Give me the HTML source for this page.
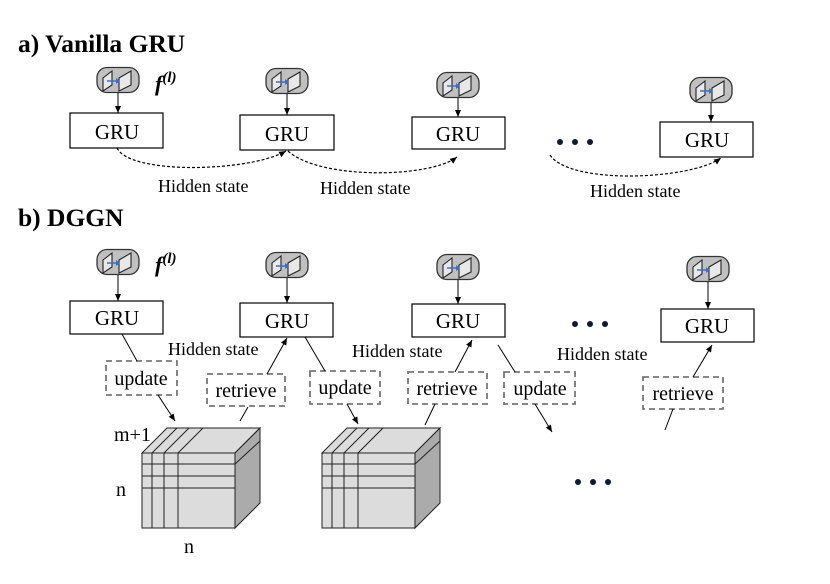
<!DOCTYPE html>
<html><head><meta charset="utf-8"><style>
html,body{margin:0;padding:0;background:#fff}
svg{display:block}
text{font-family:"Liberation Serif",serif;fill:#000}
</style></head><body>
<svg width="830" height="584" viewBox="0 0 830 584" xmlns="http://www.w3.org/2000/svg">
<defs>
<marker id="ah" markerWidth="8" markerHeight="8" refX="7" refY="4" orient="auto" markerUnits="userSpaceOnUse">
<path d="M0,1 L7,4 L0,7 z" fill="#000"/></marker>
<g id="icon">
<rect x="-21" y="-12.5" width="42" height="25" rx="10" fill="#c0c0c0" stroke="#333" stroke-width="1.3"/>
<path d="M-15,-2 L-6,-9 L-6,5 L-15,11 z" fill="#e8e8e8" stroke="#222" stroke-width="1.1"/>
<path d="M1,-2 L13,-9 L13,5 L1,11 z" fill="#e8e8e8" stroke="#222" stroke-width="1.1"/>
<line x1="-11" y1="1" x2="0" y2="1" stroke="#3a6fd0" stroke-width="1.5"/>
<path d="M-2,-2 L2,1 L-2,4 z" fill="#3a6fd0"/>
</g>
<g id="cube">
<path d="M0,0 L93,0 L118,-25 L25,-25 z" fill="#dcdcdc" stroke="#222" stroke-width="1"/>
<path d="M93,0 L118,-25 L118,50 L93,75 z" fill="#ababab" stroke="#222" stroke-width="1"/>
<rect x="0" y="0" width="93" height="75" fill="#dcdcdc" stroke="#222" stroke-width="1"/>
<g stroke="#222" stroke-width="1">
<line x1="10" y1="0" x2="10" y2="75"/><line x1="22" y1="0" x2="22" y2="75"/><line x1="36" y1="0" x2="36" y2="75"/>
<line x1="0" y1="11" x2="93" y2="11"/><line x1="0" y1="23" x2="93" y2="23"/><line x1="0" y1="35" x2="93" y2="35"/>
<line x1="10" y1="0" x2="35" y2="-25"/><line x1="22" y1="0" x2="47" y2="-25"/><line x1="36" y1="0" x2="61" y2="-25"/>
<line x1="93" y1="11" x2="118" y2="-12"/>
</g>
</g>
</defs>

<text x="18" y="52" font-size="25.5" font-weight="bold">a) Vanilla GRU</text>
<text x="18" y="226" font-size="25.5" font-weight="bold">b) DGGN</text>

<!-- Part a -->
<use href="#icon" x="118" y="80"/>
<use href="#icon" x="287" y="81"/>
<use href="#icon" x="458" y="85"/>
<use href="#icon" x="711" y="90"/>
<text x="155" y="91" font-size="22" font-weight="bold" font-style="italic">f<tspan font-size="15" dy="-9">(l)</tspan></text>
<g stroke="#000" stroke-width="1">
<line x1="118" y1="93" x2="118" y2="113" marker-end="url(#ah)"/>
<line x1="287" y1="94" x2="287" y2="115" marker-end="url(#ah)"/>
<line x1="458" y1="98" x2="458" y2="117" marker-end="url(#ah)"/>
<line x1="711" y1="103" x2="711" y2="122" marker-end="url(#ah)"/>
</g>
<g fill="#fff" stroke="#000" stroke-width="1.2">
<rect x="70" y="113" width="93" height="35"/>
<rect x="240" y="115" width="94" height="35"/>
<rect x="412" y="117" width="93" height="32"/>
<rect x="660" y="122" width="93" height="35"/>
</g>
<g font-size="21" text-anchor="middle">
<text x="117" y="139">GRU</text><text x="287" y="141">GRU</text><text x="458" y="141">GRU</text><text x="707" y="147">GRU</text>
</g>
<g fill="none" stroke="#000" stroke-width="1.2" stroke-dasharray="3,2">
<path d="M117,148 C130,175 250,172 286,151" marker-end="url(#ah)"/>
<path d="M288,151 C320,180 430,178 457,157" marker-end="url(#ah)"/>
<path d="M550,155 C570,185 690,180 721,158" marker-end="url(#ah)"/>
</g>
<g fill="#0a1a3a"><circle cx="560" cy="142" r="3"/><circle cx="575" cy="142" r="3"/><circle cx="590" cy="142" r="3"/></g>
<g font-size="18">
<text x="158" y="192">Hidden state</text>
<text x="320" y="194">Hidden state</text>
<text x="590" y="197">Hidden state</text>
</g>

<!-- Part b -->
<use href="#icon" x="118" y="262"/>
<use href="#icon" x="287" y="265"/>
<use href="#icon" x="458" y="267"/>
<use href="#icon" x="708" y="269"/>
<text x="155" y="272" font-size="22" font-weight="bold" font-style="italic">f<tspan font-size="15" dy="-9">(l)</tspan></text>
<g stroke="#000" stroke-width="1">
<line x1="118" y1="275" x2="118" y2="301" marker-end="url(#ah)"/>
<line x1="287" y1="278" x2="287" y2="303" marker-end="url(#ah)"/>
<line x1="458" y1="280" x2="458" y2="304" marker-end="url(#ah)"/>
<line x1="708" y1="282" x2="708" y2="309" marker-end="url(#ah)"/>
</g>
<g fill="#fff" stroke="#000" stroke-width="1.2">
<rect x="70" y="301" width="93" height="33"/>
<rect x="240" y="303" width="93" height="34"/>
<rect x="412" y="304" width="93" height="33"/>
<rect x="661" y="309" width="93" height="33"/>
</g>
<g font-size="21" text-anchor="middle">
<text x="117" y="325">GRU</text><text x="287" y="328">GRU</text><text x="458" y="328">GRU</text><text x="707" y="333">GRU</text>
</g>
<g fill="#0a1a3a"><circle cx="575" cy="324" r="3"/><circle cx="590" cy="324" r="3"/><circle cx="605" cy="324" r="3"/></g>
<g font-size="18">
<text x="168" y="355">Hidden state</text>
<text x="352" y="357">Hidden state</text>
<text x="557" y="360">Hidden state</text>
</g>
<g fill="none" stroke="#777" stroke-width="1.8" stroke-dasharray="6,4">
<rect x="106" y="361" width="71" height="34"/>
<rect x="207" y="374" width="78" height="32"/>
<rect x="310" y="371" width="70" height="33"/>
<rect x="408" y="372" width="79" height="32"/>
<rect x="504" y="372" width="71" height="32"/>
<rect x="643" y="377" width="80" height="32"/>
</g>
<g font-size="20" text-anchor="middle">
<text x="141" y="385">update</text>
<text x="246" y="397">retrieve</text>
<text x="345" y="394">update</text>
<text x="447" y="395">retrieve</text>
<text x="540" y="395">update</text>
<text x="683" y="400">retrieve</text>
</g>
<g stroke="#000" stroke-width="1" fill="none">
<line x1="122" y1="334" x2="137" y2="361"/>
<line x1="267" y1="374" x2="287" y2="338" marker-end="url(#ah)"/>
<line x1="305" y1="337" x2="325" y2="371"/>
<line x1="455" y1="372" x2="472" y2="340" marker-end="url(#ah)"/>
<line x1="498" y1="345" x2="515" y2="372"/>
<line x1="693" y1="377" x2="712" y2="345" marker-end="url(#ah)"/>
<line x1="158" y1="395" x2="175" y2="421" marker-end="url(#ah)"/>
<line x1="248" y1="407" x2="240" y2="421"/>
<line x1="347" y1="404" x2="358" y2="424" marker-end="url(#ah)"/>
<line x1="435" y1="404" x2="425" y2="425"/>
<line x1="535" y1="404" x2="552" y2="432" marker-end="url(#ah)"/>
<line x1="673" y1="409" x2="665" y2="430"/>
</g>
<use href="#cube" x="142" y="453"/>
<use href="#cube" x="322" y="453"/>
<g fill="#0a1a3a"><circle cx="578" cy="482" r="3"/><circle cx="593" cy="482" r="3"/><circle cx="608" cy="482" r="3"/></g>
<g font-size="20">
<text x="114" y="441">m+1</text>
<text x="116" y="496">n</text>
<text x="184" y="553">n</text>
</g>
</svg>
</body></html>
